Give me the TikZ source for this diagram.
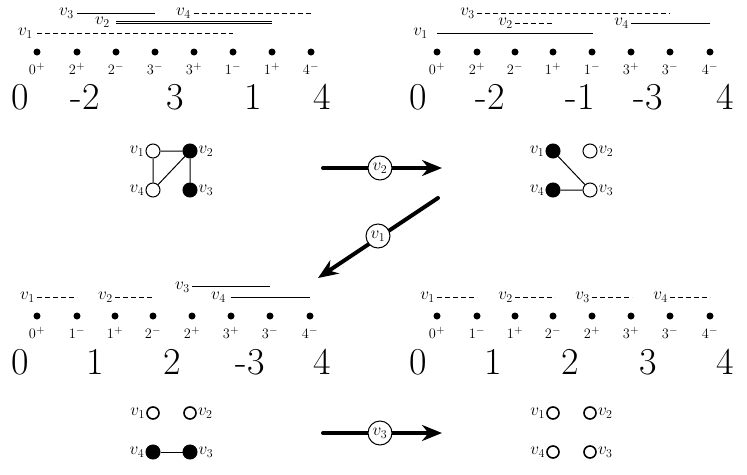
\documentclass[tikz,border=0pt]{standalone}
\usetikzlibrary{arrows.meta}
\begin{document}
\begin{tikzpicture}[x=1pt,y=-1pt,
  pt/.style={circle,fill,inner sep=0,minimum size=7pt},
  lab/.style={font=\fontsize{15}{15}\selectfont,inner sep=0},
  big/.style={font=\fontsize{38}{38}\selectfont,inner sep=0},
  il/.style={font=\fontsize{17}{17}\selectfont,inner sep=0,anchor=east},
  seg/.style={line width=1pt},
  dseg/.style={line width=1pt,dash pattern=on 5pt off 3pt},
  gv/.style={circle,draw,line width=1pt,minimum size=14pt,inner sep=0},
  gf/.style={gv,fill},
  gt/.style={gv,line width=1.6pt,minimum size=12pt},
  gl/.style={font=\fontsize{17}{17}\selectfont,inner sep=1pt},
  ge/.style={line width=1pt},
  bigarrow/.style={line width=4pt,-{Stealth[length=20pt,width=16pt]}},
  mid/.style={circle,draw,fill=white,line width=1pt,minimum size=24pt,inner sep=0,font=\fontsize{17}{17}\selectfont}]
\useasboundingbox (0,0) rectangle (747,474);
% ---------- panel helper: dots + labels
\foreach \x/\l [count=\i] in {37/0^+,77/2^+,116/2^-,155/3^-,194/3^+,233/1^-,272/1^+,311/4^-}
  {\node[pt] (a\i) at (\x,52) {}; \node[lab] (al\i) at (\x,69) {$\l$};}
\foreach \x/\l [count=\i] in {20/0,85/-2,175/3,253/1,322/4} \node[big] (ab\i) at (\x,97) {\l};
\node[il] (av1) at (33,33) {$v_1$}; \draw[dseg] (av1.east) ++(4,0) coordinate (avs1) -- (233,33);
\node[il] (av2) at (110,22) {$v_2$}; \draw[seg] (116,21) -- (272,21); \draw[seg] (116,23.5) -- (272,23.5);
\node[il] (av3) at (74,13) {$v_3$}; \draw[seg] (77,13) -- (155,13);
\node[il] (av4) at (191,13) {$v_4$}; \draw[dseg] (194,13) -- (311,13);
% top right
\foreach \x/\l [count=\i] in {437/0^+,477/2^+,515/2^-,553/1^+,592/1^-,631/3^+,670/3^-,710/4^-}
  {\node[pt] (b\i) at (\x,52) {}; \node[lab] (bl\i) at (\x,69) {$\l$};}
\foreach \x/\l [count=\i] in {418/0,490/-2,580/-1,648/-3,725/4} \node[big] (bb\i) at (\x,97) {\l};
\node[il] (bv1) at (428,33) {$v_1$}; \draw[seg] (437,33) -- (593,33);
\node[il] (bv2) at (513,23) {$v_2$}; \draw[dseg] (515,23) -- (553,23);
\node[il] (bv3) at (475,13) {$v_3$}; \draw[dseg] (477,13) -- (670,13);
\node[il] (bv4) at (629,23) {$v_4$}; \draw[seg] (631,23) -- (710,23);
% bottom left
\foreach \x/\l [count=\i] in {37/0^+,77/1^-,115/1^+,153/2^-,192/2^+,231/3^+,270/3^-,310/4^-}
  {\node[pt] (c\i) at (\x,316) {}; \node[lab] (cl\i) at (\x,333) {$\l$};}
\foreach \x/\l [count=\i] in {20/0,95/1,172/2,250/-3,322/4} \node[big] (cb\i) at (\x,362) {\l};
\node[il] (cv1) at (35,297) {$v_1$}; \draw[dseg] (37,297) -- (77,297);
\node[il] (cv2) at (113,297) {$v_2$}; \draw[dseg] (115,297) -- (153,297);
\node[il] (cv3) at (190,287) {$v_3$}; \draw[seg] (192,286) -- (270,286);
\node[il] (cv4) at (226,297) {$v_4$}; \draw[seg] (231,297) -- (310,297);
% bottom right
\foreach \x/\l [count=\i] in {437/0^+,477/1^-,515/1^+,553/2^-,592/2^+,631/3^+,670/3^-,710/4^-}
  {\node[pt] (d\i) at (\x,316) {}; \node[lab] (dl\i) at (\x,333) {$\l$};}
\foreach \x/\l [count=\i] in {418/0,493/1,570/2,648/3,725/4} \node[big] (db\i) at (\x,362) {\l};
\foreach \x/\k [count=\i] in {437/1,515/2,592/3,670/4}
  {\node[il] (dv\i) at (\x-2,297) {$v_\k$}; \draw[dseg] (\x,297) -- (\x+40,297);}
% graphs
\node[gv] (g1) at (153,151) {}; \node[gf] (g2) at (190,151) {};
\node[gv] (g4) at (153,190) {}; \node[gf] (g3) at (190,190) {};
\draw[ge] (g1)--(g2) (g1)--(g4) (g4)--(g2) (g2)--(g3);
\node[gl,left] at (g1.west) {$v_1$}; \node[gl,right] at (g2.east) {$v_2$};
\node[gl,left] at (g4.west) {$v_4$}; \node[gl,right] at (g3.east) {$v_3$};
\node[gf] (h1) at (553,151) {}; \node[gv] (h2) at (590,151) {};
\node[gf] (h4) at (553,190) {}; \node[gv] (h3) at (590,190) {};
\draw[ge] (h1)--(h3) (h4)--(h3);
\node[gl,left] at (h1.west) {$v_1$}; \node[gl,right] at (h2.east) {$v_2$};
\node[gl,left] at (h4.west) {$v_4$}; \node[gl,right] at (h3.east) {$v_3$};
\node[gt] (k1) at (153,413) {}; \node[gt] (k2) at (190,413) {};
\node[gf] (k4) at (153,452) {}; \node[gf] (k3) at (190,452) {};
\draw[ge] (k4)--(k3);
\node[gl,left] at (k1.west) {$v_1$}; \node[gl,right] at (k2.east) {$v_2$};
\node[gl,left] at (k4.west) {$v_4$}; \node[gl,right] at (k3.east) {$v_3$};
\node[gt] (m1) at (553,413) {}; \node[gt] (m2) at (590,413) {};
\node[gt] (m4) at (553,452) {}; \node[gt] (m3) at (590,452) {};
\node[gl,left] at (m1.west) {$v_1$}; \node[gl,right] at (m2.east) {$v_2$};
\node[gl,left] at (m4.west) {$v_4$}; \node[gl,right] at (m3.east) {$v_3$};
% arrows
\coordinate (p1) at (323,168); \coordinate (p2) at (442,168);
\draw[bigarrow,line cap=round] (p1) -- (p2); \node[mid] (t1) at (380,168) {$v_2$};
\coordinate (q1) at (438,198); \coordinate (q2) at (318,278);
\draw[bigarrow,line cap=round] (q1) -- (q2); \node[mid] (t2) at (378,236) {$v_1$};
\coordinate (r1) at (323,433); \coordinate (r2) at (442,433);
\draw[bigarrow,line cap=round] (r1) -- (r2); \node[mid] (t3) at (380,433) {$v_3$};
\end{tikzpicture}
\end{document}
